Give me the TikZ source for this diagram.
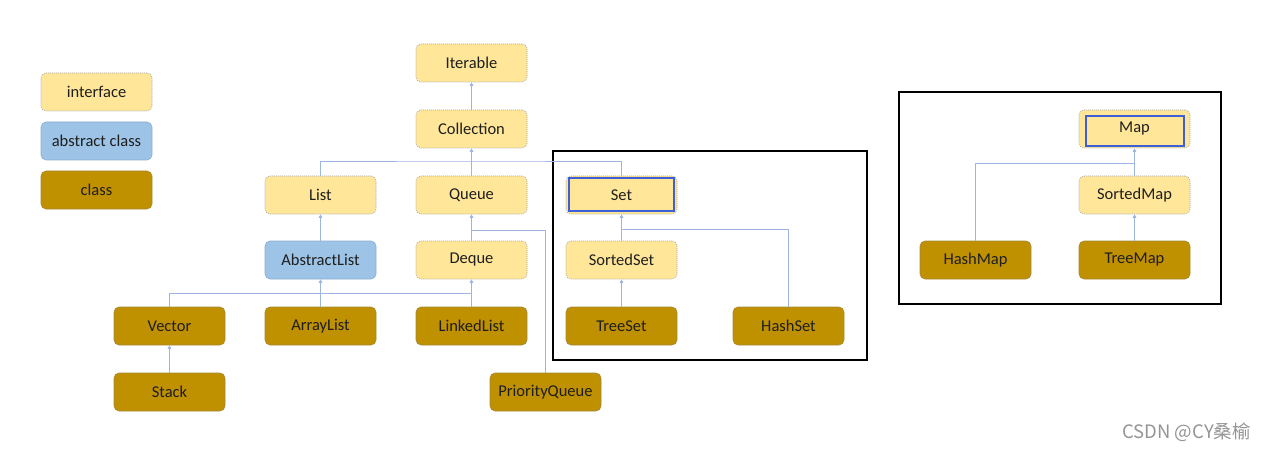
\documentclass[tikz,border=0pt]{standalone}
\usepackage{fontspec}
\setmainfont{Carlito}
\newfontfamily\cjk{Noto Sans CJK SC}
\usetikzlibrary{arrows.meta}
\definecolor{ifill}{HTML}{FFE699}
\definecolor{iborder}{HTML}{A6A6A6}
\definecolor{afill}{HTML}{9DC3E6}
\definecolor{aborder}{HTML}{8AAED0}
\definecolor{cfill}{HTML}{BF9000}
\definecolor{cborder}{HTML}{A88A3A}
\definecolor{conn}{HTML}{9DB5E0}
\definecolor{hl}{HTML}{3F5FD9}
\definecolor{txt}{HTML}{1E1E1E}
\tikzset{
  basebox/.style={rounded corners=5pt, minimum width=111pt, minimum height=38pt, inner sep=0pt, font=\fontsize{16.5}{19}\selectfont, text=txt, line width=0.6pt},
  iface/.style={basebox, fill=ifill, draw=iborder, dash pattern=on 1pt off 1pt},
  aclass/.style={basebox, fill=afill, draw=aborder},
  cclass/.style={basebox, fill=cfill, draw=cborder},
  conn/.style={draw=conn, line width=0.9pt},
  arr/.style={conn, -{Triangle[width=3.5pt,length=3.5pt]}},
  hlbox/.style={draw=hl, line width=2.8pt},
  frame/.style={draw=black, line width=2.8pt},
}
\begin{document}
\begin{tikzpicture}[x=1pt,y=-1pt]
\useasboundingbox (0,0) rectangle (1265,449);
% legend
\node[iface] (li) at (96.5,92) {interface};
\node[aclass] (la) at (96.5,141) {abstract class};
\node[cclass] (lc) at (96.5,190) {class};
% main tree
\node[iface] (iterable) at (471.5,63) {Iterable};
\node[iface] (collection) at (471.5,129) {Collection};
\node[iface] (list) at (320.5,195) {List};
\node[iface] (queue) at (471.5,195) {Queue};
\node[iface] (set) at (621.5,195) {Set};
\node[aclass] (abstractlist) at (320.5,260) {AbstractList};
\node[iface] (deque) at (471.5,260) {Deque};
\node[iface] (sortedset) at (621.5,260) {SortedSet};
\node[cclass] (vector) at (169.5,326) {Vector};
\node[cclass] (arraylist) at (320.5,326) {ArrayList};
\node[cclass] (linkedlist) at (471.5,326) {LinkedList};
\node[cclass] (treeset) at (621.5,326) {TreeSet};
\node[cclass] (hashset) at (788.5,326) {HashSet};
\node[cclass] (stack) at (169.5,392) {Stack};
\node[cclass] (pq) at (545.5,392) {PriorityQueue};
% map tree
\node[iface] (map) at (1134.5,129) {Map};
\node[iface] (sortedmap) at (1134.5,195) {SortedMap};
\node[cclass] (hashmap) at (975.5,260) {HashMap};
\node[cclass] (treemap) at (1134.5,260) {TreeMap};
% highlight boxes
\draw[hlbox] (569,178) rectangle (674,211);
\draw[hlbox] (1086,116) rectangle (1184,146);
% frames
\draw[frame] (553,151) rectangle (867,360);
\draw[frame] (899,92) rectangle (1221,304);
% connectors
\draw[arr] (collection.north) -- (iterable.south);
\draw[arr] (queue.north) -- (collection.south);
\draw[conn] (list.north) |- (471.5,161) -| (set.north);
\draw[arr] (abstractlist.north) -- (list.south);
\draw[arr] (deque.north) -- (queue.south);
\draw[conn] (pq.north) |- (471.5,230);
\draw[arr] (linkedlist.north) -- (deque.south);
\draw[arr] (arraylist.north) -- (abstractlist.south);
\draw[conn] (vector.north) |- (471.5,293);
\draw[arr] (stack.north) -- (vector.south);
\draw[arr] (sortedset.north) -- (set.south);
\draw[conn] (hashset.north) |- (621.5,229);
\draw[arr] (treeset.north) -- (sortedset.south);
\draw[arr] (sortedmap.north) -- (map.south);
\draw[conn] (hashmap.north) |- (1134.5,163);
\draw[arr] (treemap.north) -- (sortedmap.south);
% watermark
\node[anchor=east, text=black!42, font=\cjk\fontsize{18.5}{20}\selectfont, inner sep=0pt] (wm) at (1251,432) {CSDN @CY桑榆};
\end{tikzpicture}
\end{document}
